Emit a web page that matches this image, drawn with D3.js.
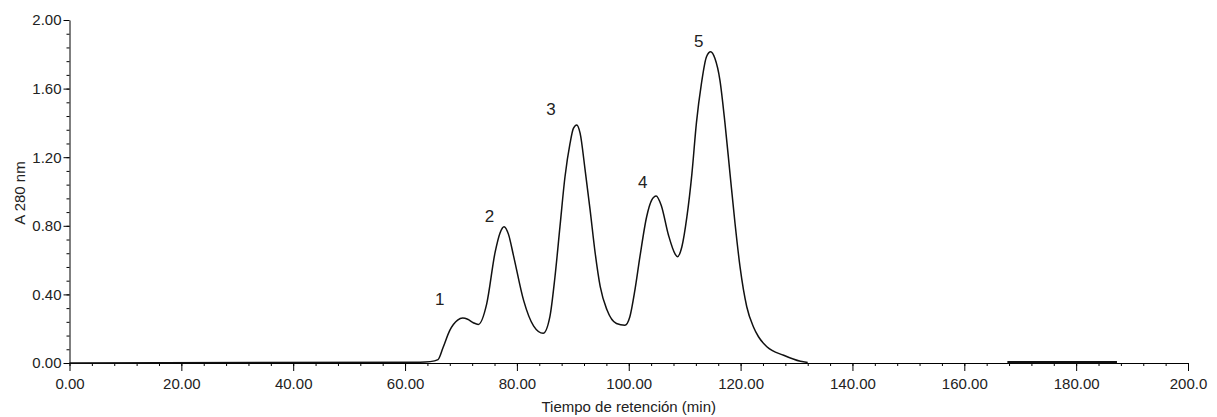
<!DOCTYPE html>
<html>
<head>
<meta charset="utf-8">
<script src="https://cdn.jsdelivr.net/npm/d3@7"></script>
<style>
  body { margin: 0; background: #fff; }
  svg { display: block; font-family: "Liberation Sans", Arial, sans-serif; }
  .axis text { font-size: 15px; fill: #222; }
  .axis path, .axis line { stroke: #000; }
</style>
</head>
<body>
<svg id="chart" width="1217" height="417"></svg>
<script>
// retention time (min) and absorbance at 280 nm
const time = [0, 62.7, 64.5, 65.9, 66.8, 68, 69.4, 70.3, 71.2, 72.2, 73.1, 74.6, 76.1, 77, 77.7, 78.5, 79.4, 81.2, 83,
  84.7, 85.9, 86.8, 87.7, 88.6, 89.5, 90.1, 90.7, 91.3, 92.2, 93.1, 94.0, 94.9, 96.1, 97.8, 99.3,
  100.2, 101.1, 102.0, 103.2, 104.1, 104.9, 105.8, 107.1, 108.3, 108.7, 109.5, 110.4, 111.3, 112.1,
  113.0, 113.9, 114.65, 115.4, 116.3, 117.2, 118.1, 119.0, 119.9, 121.1, 122.3, 123.2, 124.7, 127.7, 130.7, 132];
const absorbance = [0, 0.005, 0.008, 0.02, 0.09, 0.19, 0.25, 0.262, 0.255, 0.235, 0.225, 0.345, 0.645, 0.76, 0.795, 0.75, 0.625, 0.365, 0.215,
  0.173, 0.27, 0.50, 0.795, 1.086, 1.28, 1.368, 1.388, 1.34, 1.125, 0.89, 0.64, 0.445, 0.31, 0.23, 0.22,
  0.27, 0.425, 0.62, 0.853, 0.95, 0.974, 0.92, 0.746, 0.635, 0.62, 0.678, 0.853, 1.106, 1.40,
  1.63, 1.786, 1.815, 1.777, 1.65, 1.40, 1.106, 0.815, 0.56, 0.328, 0.21, 0.153, 0.095, 0.045, 0.01, 0.003];

// short flat trace near the end of the run
const flatTime = [167.7, 187.3];
const flatAbs = [0.005, 0.005];

// peak numbers and where they sit
const peakNames = ['1', '2', '3', '4', '5'];
const peakT = [66.2, 75.1, 86.1, 102.5, 112.5];
const peakV = [0.37, 0.855, 1.48, 1.055, 1.875];

const xTicks = [0, 20, 40, 60, 80, 100, 120, 140, 160, 180, 200];
const xTickLabels = ['0.00', '20.00', '40.00', '60.00', '80.00', '100.00', '120.00', '140.00', '160.00', '180.00', '200.0'];
const yTicks = [0, 0.4, 0.8, 1.2, 1.6, 2.0];
const yTickLabels = ['0.00', '0.40', '0.80', '1.20', '1.60', '2.00'];

const svg = d3.select('#chart');

const x = d3.scaleLinear().domain([0, 200]).range([69.5, 1188]);
const y = d3.scaleLinear().domain([0, 2]).range([363, 20]);

// minor ticks
svg.append('g')
  .attr('class', 'axis')
  .attr('transform', `translate(0,${y(0)})`)
  .call(d3.axisBottom(x).tickValues(d3.range(0, 201, 4)).tickSize(3).tickFormat(''))
  .select('.domain').remove();

svg.append('g')
  .attr('class', 'axis')
  .attr('transform', `translate(${x(0)},0)`)
  .call(d3.axisLeft(y).tickValues(d3.range(0, 25).map((i) => i * 0.08)).tickSize(3).tickFormat(''))
  .select('.domain').remove();

// major ticks
svg.append('g')
  .attr('class', 'axis')
  .attr('transform', `translate(0,${y(0)})`)
  .call(d3.axisBottom(x)
    .tickValues(xTicks)
    .tickSizeInner(8)
    .tickSizeOuter(0)
    .tickPadding(7)
    .tickFormat((d, i) => xTickLabels[i]));

svg.append('g')
  .attr('class', 'axis')
  .attr('transform', `translate(${x(0)},0)`)
  .call(d3.axisLeft(y)
    .tickValues(yTicks)
    .tickSizeInner(6)
    .tickSizeOuter(0)
    .tickPadding(2)
    .tickFormat((d, i) => yTickLabels[i]));

const line = d3.line()
  .x((d) => x(d[0]))
  .y((d) => y(d[1]))
  .curve(d3.curveMonotoneX);

svg.append('path')
  .datum(d3.zip(time, absorbance))
  .attr('d', line)
  .attr('fill', 'none')
  .attr('stroke', '#111')
  .attr('stroke-width', 1.5);

svg.append('path')
  .datum(d3.zip(flatTime, flatAbs))
  .attr('d', d3.line().x((d) => x(d[0])).y((d) => y(d[1])))
  .attr('fill', 'none')
  .attr('stroke', '#111')
  .attr('stroke-width', 2.5);

svg.append('g')
  .selectAll('text')
  .data(peakNames)
  .join('text')
  .attr('x', (d, i) => x(peakT[i]))
  .attr('y', (d, i) => y(peakV[i]))
  .attr('dy', '0.35em')
  .attr('text-anchor', 'middle')
  .style('font-size', '17px')
  .style('fill', '#222')
  .text((d) => d);

svg.append('text')
  .attr('x', (x.range()[0] + x.range()[1]) / 2)
  .attr('y', 412)
  .attr('text-anchor', 'middle')
  .style('font-size', '15px')
  .style('fill', '#222')
  .text('Tiempo de retención (min)');

svg.append('text')
  .attr('transform', 'translate(25,193) rotate(-90)')
  .attr('text-anchor', 'middle')
  .style('font-size', '15px')
  .style('fill', '#222')
  .text('A 280 nm');
</script>
</body>
</html>
